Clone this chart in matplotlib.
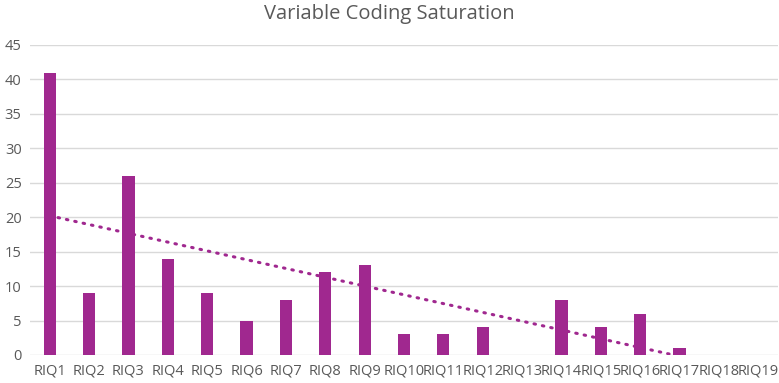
import matplotlib.pyplot as plt
import numpy as np

plt.rcParams['font.family'] = ['Open Sans', 'DejaVu Sans']

# data
labels = ["RIQ%d" % i for i in range(1, 20)]
counts = [41, 9, 26, 14, 9, 5, 8, 12, 13, 3, 3, 4, 0, 8, 4, 6, 1, 0, 0]

bar_col = '#A0288F'
txt_col = '#595959'

fig = plt.figure(figsize=(7.79, 3.83), dpi=100)
ax = fig.add_axes([30/779, 28/383, 748/779, 310/383])

x = np.arange(1, len(counts) + 1)
ax.bar(x, counts, width=0.31, color=bar_col, zorder=3)

# linear trendline (like excel)
k, b = np.polyfit(x, counts, 1)
ax.plot(x, k*x + b, color=bar_col, linestyle=(0, (0.5, 2.3)), linewidth=2.2,
        dash_capstyle='round', zorder=4)

ax.set_xlim(0.5, len(counts) + 0.5)
ax.set_ylim(0, 45)
ax.set_yticks(range(0, 46, 5))
ax.set_xticks(x)
ax.set_xticklabels(labels)
ax.grid(axis='y', color='#D9D9D9', linewidth=1, zorder=0)
for s in ax.spines.values():
    s.set_visible(False)
ax.tick_params(length=0, labelsize=10.5, colors=txt_col)
ax.tick_params(axis='y', pad=6)
ax.tick_params(axis='x', pad=6)

fig.suptitle("Variable Coding Saturation", y=0.99, fontsize=14.5, color=txt_col)

plt.savefig("out.png", dpi=100)
